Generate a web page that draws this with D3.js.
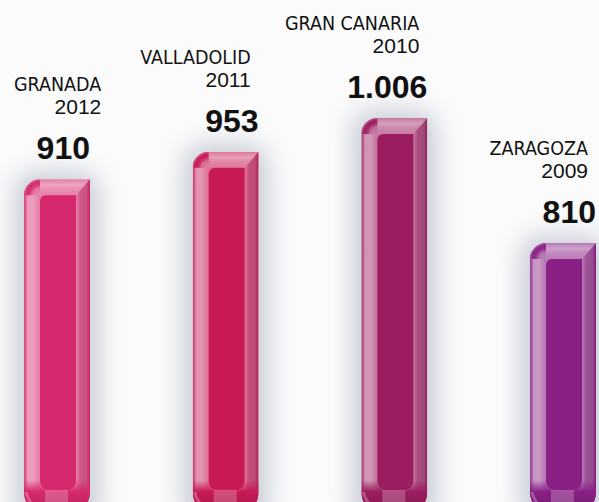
<!DOCTYPE html>
<html>
<head>
<meta charset="utf-8">
<script src="https://cdn.jsdelivr.net/npm/d3@7/dist/d3.min.js"></script>
<style>
  html, body { margin: 0; padding: 0; background: #fafafb; }
  svg { display: block; }
</style>
</head>
<body>
<div id="chart"></div>
<script>
var cities = ['GRANADA', 'VALLADOLID', 'GRAN CANARIA', 'ZARAGOZA'];
var years = ['2012', '2011', '2010', '2009'];
var values = [910, 953, 1006, 810];
var valueLabels = ['910', '953', '1.006', '810'];

// one tube colour per bar (front face)
var tubeColors = ['#d6286e', '#c71a56', '#9b1d5f', '#892084'];

var width = 599, height = 502;
var barW = 66, base = 514;

var svg = d3.select('#chart').append('svg')
  .attr('width', width)
  .attr('height', height);

var defs = svg.append('defs');

defs.append('filter')
  .attr('id', 'soft')
  .attr('x', '-50%').attr('y', '-50%').attr('width', '200%').attr('height', '200%')
  .append('feGaussianBlur').attr('stdDeviation', 13);

svg.append('rect')
  .attr('width', width).attr('height', height)
  .attr('fill', '#fbfbfc');

var x = d3.scalePoint()
  .domain(cities)
  .range([24, 530]);

var y = d3.scaleLinear()
  .domain([810, 1006])
  .range([243, 118]);

function mix(c, t, k) { return d3.interpolateRgb(c, t)(k); }

function bodyPath(w, h) {
  var r = 16, rb = 22;
  return 'M0,' + (h - rb) + 'L0,' + r + 'A' + r + ',' + r + ' 0 0 1 ' + r + ',0' +
    'L' + w + ',0L' + w + ',' + (h - rb) +
    'A' + rb + ',' + rb + ' 0 0 1 ' + (w - rb) + ',' + h +
    'L' + rb + ',' + h +
    'A' + rb + ',' + rb + ' 0 0 1 0,' + (h - rb) + 'Z';
}

function facePath(x0, y0, w, h) {
  var r = 6, rb = 9;
  return 'M' + x0 + ',' + (y0 + h - rb) + 'L' + x0 + ',' + (y0 + r) +
    'A' + r + ',' + r + ' 0 0 1 ' + (x0 + r) + ',' + y0 +
    'L' + (x0 + w) + ',' + y0 + 'L' + (x0 + w) + ',' + (y0 + h - rb) +
    'A' + rb + ',' + rb + ' 0 0 1 ' + (x0 + w - rb) + ',' + (y0 + h) +
    'L' + (x0 + rb) + ',' + (y0 + h) +
    'A' + rb + ',' + rb + ' 0 0 1 ' + x0 + ',' + (y0 + h - rb) + 'Z';
}

function grad(id, stops, vertical) {
  var g = defs.append('linearGradient').attr('id', id)
    .attr('x1', 0).attr('y1', 0)
    .attr('x2', vertical ? 0 : 1).attr('y2', vertical ? 1 : 0);
  stops.forEach(function(s) {
    g.append('stop').attr('offset', s[0]).attr('stop-color', s[1]).attr('stop-opacity', s[2] == null ? 1 : s[2]);
  });
}

// soft grey shadows first so they sit under every tube
svg.append('g').selectAll('rect')
  .data(cities)
  .enter().append('rect')
  .attr('x', function(d) { return x(d) - 9; })
  .attr('y', function(d, i) { return y(values[i]) - 7; })
  .attr('width', barW + 18)
  .attr('height', function(d, i) { return base - y(values[i]) + 20; })
  .attr('rx', 20)
  .attr('fill', '#b0b5c5')
  .attr('opacity', 0.7)
  .attr('filter', 'url(#soft)');

cities.forEach(function(city, i) {
  var c = tubeColors[i];
  var top = y(values[i]);
  var h = base - top;
  var g = svg.append('g').attr('transform', 'translate(' + x(city) + ',' + top + ')');

  grad('strip' + i, [
    [0, mix(c, '#fff', 0.12)], [0.14, mix(c, '#fff', 0.3)], [0.22, mix(c, '#fff', 0.52)],
    [0.55, mix(c, '#fff', 0.55)], [0.8, mix(c, '#fff', 0.45)], [1, mix(c, '#fff', 0.38)]
  ]);
  grad('bevel' + i, [
    [0, mix(c, '#fff', 0.42)], [0.16, mix(c, '#fff', 0.3)], [0.3, mix(mix(c, '#fff', 0.2), '#8a6f80', 0.2)],
    [0.75, mix(mix(c, '#fff', 0.15), '#8a6f80', 0.25)], [1, mix(c, '#000', 0.08)]
  ]);
  grad('band' + i, [
    [0, mix(c, '#fff', 0.4)], [0.35, mix(c, '#fff', 0.58)], [0.6, mix(c, '#fff', 0.48)], [1, mix(c, '#fff', 0.42)]
  ], true);
  grad('cap' + i, [
    [0, c, 0], [0.35, c, 1], [1, mix(c, '#000', 0.18)]
  ], true);

  var rg = defs.append('radialGradient').attr('id', 'corner' + i)
    .attr('gradientUnits', 'userSpaceOnUse')
    .attr('cx', 16).attr('cy', 16).attr('r', 16);
  [[0, mix(c, '#fff', 0.45)], [0.45, mix(c, '#fff', 0.35)], [0.62, mix(c, '#fff', 0.1)],
   [0.82, c], [1, mix(c, '#fff', 0.25)]].forEach(function(s) {
    rg.append('stop').attr('offset', s[0]).attr('stop-color', s[1]);
  });

  defs.append('clipPath').attr('id', 'clip' + i)
    .append('path').attr('d', bodyPath(barW, h));

  var b = g.append('g').attr('clip-path', 'url(#clip' + i + ')');

  b.append('rect').attr('width', barW).attr('height', h).attr('fill', mix(c, '#fff', 0.4));
  b.append('rect').attr('width', 16).attr('height', h).attr('fill', 'url(#strip' + i + ')');
  b.append('rect').attr('x', 16).attr('width', barW - 16).attr('height', 16).attr('fill', 'url(#band' + i + ')');
  b.append('rect').attr('width', 16).attr('height', 16).attr('fill', 'url(#corner' + i + ')');
  b.append('path')
    .attr('d', 'M' + (barW - 14) + ',16L' + barW + ',0L' + barW + ',' + h + 'L' + (barW - 14) + ',' + h + 'Z')
    .attr('fill', 'url(#bevel' + i + ')');
  b.append('rect').attr('y', h - 34).attr('width', barW).attr('height', 34).attr('fill', 'url(#cap' + i + ')');
  b.append('path')
    .attr('d', 'M2,' + (h - 22) + 'Q6,' + (h - 6) + ' 20,' + (h - 3))
    .attr('fill', 'none').attr('stroke', '#fff').attr('stroke-opacity', 0.25).attr('stroke-width', 3);
  b.append('path')
    .attr('d', facePath(16, 16, barW - 30, h - 40))
    .attr('fill', c);
  b.append('rect')
    .attr('x', 21).attr('y', h - 24).attr('width', 23).attr('height', 24)
    .attr('fill', '#fff').attr('opacity', 0.22);
});

// labels
var labels = svg.append('g').attr('fill', '#111');

var cityText = labels.selectAll('text.city')
  .data(cities)
  .enter().append('text')
  .attr('class', 'city')
  .attr('y', function(d, i) { return y(values[i]) - 88; })
  .attr('text-anchor', 'end')
  .attr('font-family', '"Liberation Sans Narrow", "DejaVu Sans Condensed", sans-serif')
  .attr('font-size', 19.5)
  .text(function(d) { return d; });

// right edge of the name/year block, pushed right if the name would leave the picture
var anchors = [];
cityText.each(function(d, i) {
  var len = this.getComputedTextLength();
  anchors[i] = Math.max(x(d) + 58, 14 + len);
});
cityText.attr('x', function(d, i) { return anchors[i]; });

labels.selectAll('text.year')
  .data(years)
  .enter().append('text')
  .attr('class', 'year')
  .attr('x', function(d, i) { return anchors[i]; })
  .attr('y', function(d, i) { return y(values[i]) - 65; })
  .attr('text-anchor', 'end')
  .attr('font-family', '"Liberation Sans", Arial, sans-serif')
  .attr('font-size', 21)
  .text(function(d) { return d; });

labels.selectAll('text.value')
  .data(valueLabels)
  .enter().append('text')
  .attr('class', 'value')
  .attr('x', function(d, i) { return x(cities[i]) + 66; })
  .attr('y', function(d, i) { return y(values[i]) - 20; })
  .attr('text-anchor', 'end')
  .attr('font-family', '"Liberation Sans", Arial, sans-serif')
  .attr('font-weight', 'bold')
  .attr('font-size', 32)
  .text(function(d) { return d; });
</script>
</body>
</html>
